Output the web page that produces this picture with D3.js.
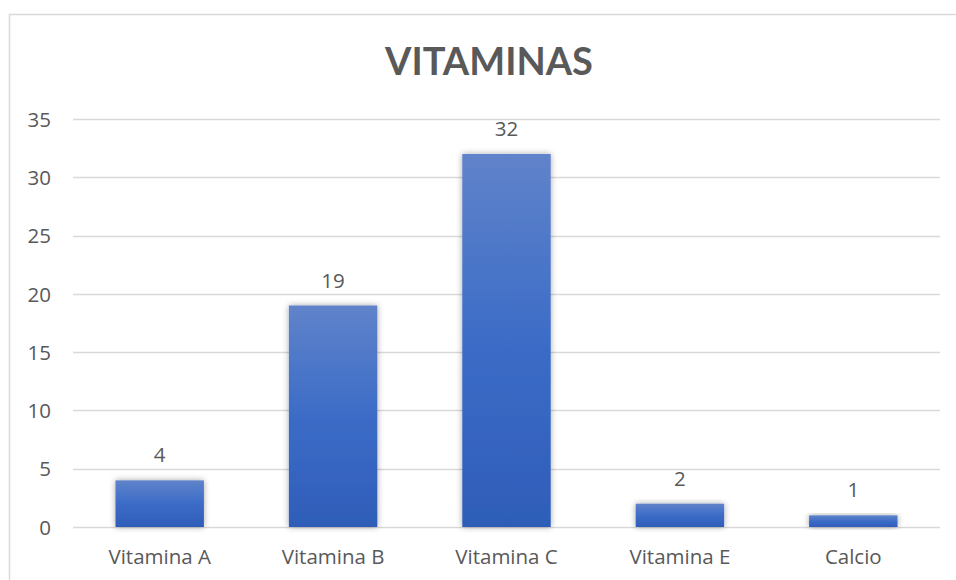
<!DOCTYPE html>
<html>
<head>
<meta charset="utf-8">
<script src="https://cdn.jsdelivr.net/npm/d3@7"></script>
<style>
  body { margin: 0; background: #fff; }
  text { font-family: "Open Sans", Lato, sans-serif; fill: #595959; }
</style>
</head>
<body>
<svg id="chart" width="956" height="580"></svg>
<script>
// data
var categories = ["Vitamina A", "Vitamina B", "Vitamina C", "Vitamina E", "Calcio"];
var values = [4, 19, 32, 2, 1];
var yTicks = [0, 5, 10, 15, 20, 25, 30, 35];

var svg = d3.select("#chart");
var margin = {left: 73, right: 16, top: 119, bottom: 53};
var W = 956, H = 580;

// chart frame
svg.append("rect")
  .attr("x", 9.5).attr("y", 14.5)
  .attr("width", 960).attr("height", 600)
  .attr("fill", "none").attr("stroke", "#d9d9d9").attr("stroke-width", 1.5);

var x = d3.scaleBand().domain(categories)
  .range([margin.left, W - margin.right])
  .paddingInner(0.49).paddingOuter(0.245);
var y = d3.scaleLinear().domain([0, 35]).range([H - margin.bottom, margin.top]);

var defs = svg.append("defs");
var grad = defs.append("linearGradient").attr("id", "barGrad")
  .attr("x1", 0).attr("y1", 0).attr("x2", 0).attr("y2", 1);
grad.append("stop").attr("offset", "0%").attr("stop-color", "#6083ca");
grad.append("stop").attr("offset", "50%").attr("stop-color", "#3c6cc7");
grad.append("stop").attr("offset", "100%").attr("stop-color", "#2e5db8");

var shadow = defs.append("filter").attr("id", "shadow")
  .attr("x", "-20%").attr("y", "-20%").attr("width", "140%").attr("height", "140%");
shadow.append("feDropShadow").attr("dx", 0).attr("dy", 0)
  .attr("stdDeviation", 3).attr("flood-color", "#000").attr("flood-opacity", 0.35);

// gridlines
svg.append("g").selectAll("line").data(yTicks).enter().append("line")
  .attr("x1", margin.left).attr("x2", W - margin.right)
  .attr("y1", function(d){ return Math.round(y(d)) + 0.5; })
  .attr("y2", function(d){ return Math.round(y(d)) + 0.5; })
  .attr("stroke", "#d9d9d9").attr("stroke-width", 1.5);

// y axis
var yAxis = svg.append("g")
  .attr("transform", "translate(" + (margin.left - 22) + ",0)")
  .call(d3.axisLeft(y).tickValues(yTicks).tickSize(0).tickPadding(0));
yAxis.select(".domain").remove();
yAxis.selectAll("text").style("font-size", "20.5px").attr("fill", "#595959").attr("dy", "0.35em");

// bars
svg.append("g").selectAll("rect").data(values).enter().append("rect")
  .attr("x", function(d, i){ return x(categories[i]); })
  .attr("y", function(d){ return y(d); })
  .attr("width", x.bandwidth())
  .attr("height", function(d){ return y(0) - y(d); })
  .attr("fill", "url(#barGrad)")
  .attr("filter", "url(#shadow)");

// value labels
svg.append("g").selectAll("text").data(values).enter().append("text")
  .attr("x", function(d, i){ return x(categories[i]) + x.bandwidth() / 2; })
  .attr("y", function(d){ return y(d) - 18; })
  .attr("text-anchor", "middle")
  .style("font-size", "20.5px")
  .text(function(d){ return d; });

// x axis
var xAxis = svg.append("g")
  .attr("transform", "translate(0," + (H - margin.bottom) + ")")
  .call(d3.axisBottom(x).tickSize(0).tickPadding(22));
xAxis.select(".domain").remove();
xAxis.selectAll("text").style("font-size", "20.5px").attr("fill", "#595959");

// title
svg.append("text")
  .attr("x", 489).attr("y", 75)
  .attr("text-anchor", "middle")
  .style("font-family", "Lato, 'Open Sans', sans-serif")
  .style("font-size", "38px").style("font-weight", "bold")
  .text("VITAMINAS");
</script>
</body>
</html>
